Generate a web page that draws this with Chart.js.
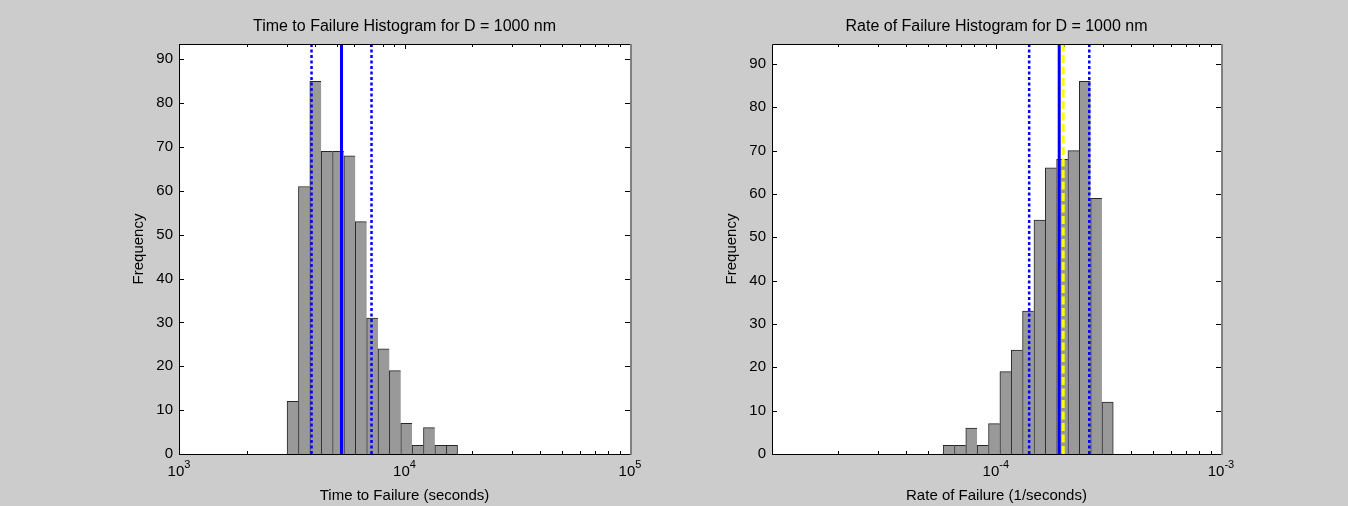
<!DOCTYPE html>
<html>
<head>
<meta charset="utf-8">
<title>Failure histograms, D = 1000 nm</title>
<script src="https://cdn.jsdelivr.net/npm/chart.js@4.4.1/dist/chart.umd.min.js"></script>
<style>
  html, body { margin: 0; padding: 0; background: #cccccc; }
  body { width: 1348px; height: 506px; position: relative; overflow: hidden; }
  canvas { position: absolute; top: 0; }
  #timeChart { left: 0; }
  #rateChart { left: 674px; }
</style>
</head>
<body>
<canvas id="timeChart" width="674" height="506"></canvas>
<canvas id="rateChart" width="674" height="506"></canvas>
<script>
// time to failure: log-spaced bin centres (s) and counts
const timeBins = [3195, 3588, 4030, 4526, 5083, 5708, 6411, 7199, 8085, 9080, 10198, 11453, 12861, 14444, 16222];
const timeCounts = [12, 61, 85, 69, 69, 68, 53, 31, 24, 19, 7, 2, 6, 2, 2];
// mean and +/- one sigma (log space)
const timeLower = 3870;
const timeMean = 5255;
const timeUpper = 7140;
const timeRange = [1e3, 1e5];

// rate of failure: bin centres (1/s) and counts
const rateBins = [6.18e-5, 6.94e-5, 7.79e-5, 8.75e-5, 9.83e-5, 1.104e-4, 1.240e-4, 1.392e-4, 1.564e-4, 1.756e-4, 1.972e-4, 2.214e-4, 2.487e-4, 2.793e-4, 3.136e-4];
const rateCounts = [2, 2, 6, 2, 7, 19, 24, 33, 54, 66, 68, 70, 86, 59, 12];
const rateLower = 1.406e-4;
const rateMean = 1.912e-4;
const rateUpper = 2.600e-4;
const rateAverage = 1.991e-4;   // plain mean of the rates (yellow)
const rateRange = [1.0135e-5, 1e-3];

const FONT = '"Liberation Sans", Arial, sans-serif';
Chart.defaults.font.family = FONT;
Chart.defaults.color = '#000';

// MATLAB-style axes: white box, inward ticks, 10^n labels, titles
const matlabAxes = {
    id: 'matlabAxes',
    beforeDraw(chart) {
        const { ctx, chartArea: a } = chart;
        ctx.save();
        ctx.fillStyle = '#ffffff';
        ctx.fillRect(a.left, a.top, a.right - a.left, a.bottom - a.top);
        ctx.restore();
    },
    beforeDatasetsDraw(chart) {
        const { ctx, chartArea: a, scales: { x, y } } = chart;
        ctx.save();
        ctx.strokeStyle = '#000';
        ctx.lineWidth = 1;
        ctx.beginPath();
        y.ticks.forEach(t => {
            const py = Math.round(y.getPixelForValue(t.value)) + 0.5;
            ctx.moveTo(a.left, py); ctx.lineTo(a.left + 5, py);
            ctx.moveTo(a.right, py); ctx.lineTo(a.right - 5, py);
        });
        const e0 = Math.floor(Math.log10(x.min)), e1 = Math.ceil(Math.log10(x.max));
        for (let e = e0; e <= e1; e++) {
            for (let m = 1; m <= 9; m++) {
                const v = m * Math.pow(10, e);
                if (v < x.min * 0.999 || v > x.max * 1.001) continue;
                const px = Math.round(x.getPixelForValue(v)) + 0.5;
                const len = m === 1 ? 5 : 3;
                ctx.moveTo(px, a.bottom); ctx.lineTo(px, a.bottom - len);
                ctx.moveTo(px, a.top); ctx.lineTo(px, a.top + len);
            }
        }
        ctx.stroke();
        ctx.restore();
    },
    afterDatasetsDraw(chart) {
        const { ctx, chartArea: a } = chart;
        ctx.save();
        ctx.strokeStyle = '#000';
        ctx.lineWidth = 1;
        ctx.beginPath();
        ctx.moveTo(Math.round(a.right), a.top + 0.5);
        ctx.lineTo(a.left + 0.5, a.top + 0.5);
        ctx.lineTo(a.left + 0.5, a.bottom + 0.5);
        ctx.lineTo(Math.round(a.right), a.bottom + 0.5);
        ctx.stroke();
        ctx.strokeStyle = '#808080';
        ctx.lineWidth = 2;
        ctx.beginPath();
        ctx.moveTo(Math.round(a.right) + 1, a.top);
        ctx.lineTo(Math.round(a.right) + 1, a.bottom + 1);
        ctx.stroke();
        ctx.restore();
    },
    afterDraw(chart, args, opts) {
        const { ctx, chartArea: a, scales: { x } } = chart;
        const cx = (a.left + a.right) / 2;
        ctx.save();
        ctx.fillStyle = '#000';
        ctx.textBaseline = 'alphabetic';

        // decade labels as 10 with a raised exponent
        const e0 = Math.ceil(Math.log10(x.min) - 1e-9), e1 = Math.floor(Math.log10(x.max) + 1e-9);
        for (let e = e0; e <= e1; e++) {
            const px = x.getPixelForValue(Math.pow(10, e));
            ctx.font = '15px ' + FONT;
            const w1 = ctx.measureText('10').width;
            ctx.font = '11px ' + FONT;
            const sup = String(e);
            const w2 = ctx.measureText(sup).width;
            const start = px - (w1 + w2) / 2;
            ctx.font = '15px ' + FONT;
            ctx.textAlign = 'left';
            ctx.fillText('10', start, a.bottom + 22);
            ctx.font = '11px ' + FONT;
            ctx.fillText(sup, start + w1, a.bottom + 14);
        }

        ctx.textAlign = 'center';
        ctx.font = '15px ' + FONT;
        ctx.fillText(opts.xLabel, cx, a.bottom + 46);

        ctx.font = '16px ' + FONT;
        ctx.fillText(opts.title, cx, 31);

        ctx.font = '15px ' + FONT;
        ctx.translate(a.left - 36, (a.top + a.bottom) / 2);
        ctx.rotate(-Math.PI / 2);
        ctx.fillText(opts.yLabel, 0, 0);
        ctx.restore();
    }
};

function markerLine(value, top, color, width, dash) {
    return {
        type: 'line',
        data: [{ x: value, y: 0 }, { x: value, y: top }],
        borderColor: color,
        borderWidth: width,
        borderDash: dash,
        pointRadius: 0,
        fill: false,
        order: 0
    };
}

function makeHistogram(id, cfg) {
    const yMax = Math.max(...cfg.counts) * 1.1;
    const n = cfg.bins.length;
    const lines = cfg.markers.map(m => markerLine(m.value, yMax, m.color, m.width, m.dash));
    return new Chart(document.getElementById(id), {
        type: 'bar',
        data: {
            datasets: [
                ...lines,
                {
                    type: 'bar',
                    data: cfg.bins.map((b, i) => ({ x: b, y: cfg.counts[i] })),
                    backgroundColor: '#999999',
                    borderColor: '#262626',
                    borderWidth: ctx => ({ top: 1, left: 1, bottom: 0, right: ctx.dataIndex === n - 1 ? 1 : 0 }),
                    borderSkipped: false,
                    barPercentage: 1,
                    categoryPercentage: 1,
                    order: 2
                }
            ]
        },
        options: {
            responsive: false,
            animation: false,
            events: [],
            layout: { padding: { left: 0, top: 44, right: cfg.padRight, bottom: 0 } },
            plugins: {
                legend: { display: false },
                tooltip: { enabled: false },
                matlabAxes: { title: cfg.title, xLabel: cfg.xLabel, yLabel: 'Frequency' }
            },
            scales: {
                x: {
                    type: 'logarithmic',
                    min: cfg.range[0],
                    max: cfg.range[1],
                    offset: false,
                    grid: { display: false, offset: false },
                    border: { display: false },
                    ticks: { display: false },
                    afterBuildTicks: scale => {
                        const ticks = [];
                        const e0 = Math.ceil(Math.log10(scale.min) - 1e-9);
                        const e1 = Math.floor(Math.log10(scale.max) + 1e-9);
                        for (let e = e0; e <= e1; e++) ticks.push({ value: Math.pow(10, e), major: true });
                        scale.ticks = ticks;
                    },
                    afterFit: scale => { scale.height = 52; }
                },
                y: {
                    min: 0,
                    max: yMax,
                    grid: { display: false, drawTicks: false },
                    border: { display: false },
                    ticks: { stepSize: 10, includeBounds: false, padding: 6, font: { size: 15 } },
                    afterFit: scale => { scale.width = cfg.padLeft; }
                }
            }
        },
        plugins: [matlabAxes]
    });
}

const dotted = [3, 2.5];

makeHistogram('timeChart', {
    bins: timeBins,
    counts: timeCounts,
    range: timeRange,
    padLeft: 179,
    padRight: 44,
    title: 'Time to Failure Histogram for D = 1000 nm',
    xLabel: 'Time to Failure (seconds)',
    markers: [
        { value: timeMean, color: '#0000ff', width: 3, dash: [] },
        { value: timeLower, color: '#0000ff', width: 2.5, dash: dotted },
        { value: timeUpper, color: '#0000ff', width: 2.5, dash: dotted }
    ]
});

makeHistogram('rateChart', {
    bins: rateBins,
    counts: rateCounts,
    range: rateRange,
    padLeft: 98,
    padRight: 127,
    title: 'Rate of Failure Histogram for D = 1000 nm',
    xLabel: 'Rate of Failure (1/seconds)',
    markers: [
        { value: rateAverage, color: '#ffff00', width: 3, dash: [8, 3.5] },
        { value: rateMean, color: '#0000ff', width: 3, dash: [] },
        { value: rateLower, color: '#0000ff', width: 2.5, dash: dotted },
        { value: rateUpper, color: '#0000ff', width: 2.5, dash: dotted }
    ]
});
</script>
</body>
</html>
